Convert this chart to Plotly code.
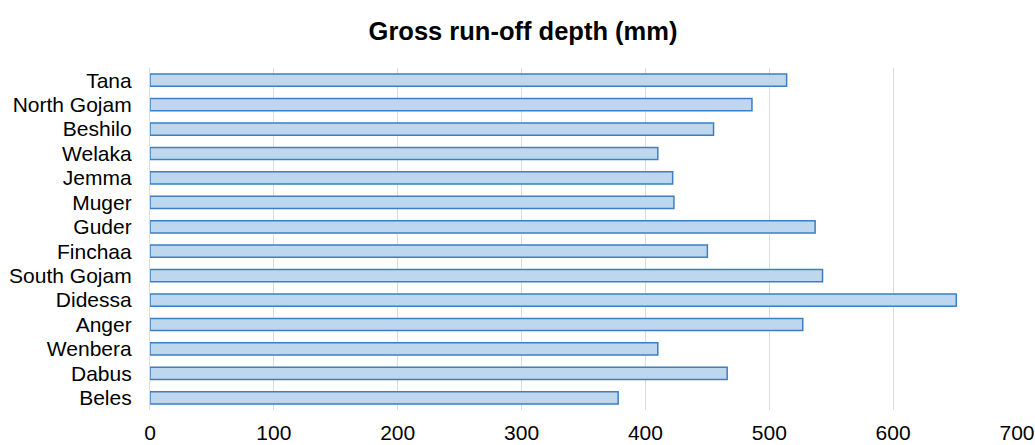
import plotly.graph_objects as go

categories = ["Tana", "North Gojam", "Beshilo", "Welaka", "Jemma", "Muger", "Guder",
              "Finchaa", "South Gojam", "Didessa", "Anger", "Wenbera", "Dabus", "Beles"]
runoff_mm = [514, 486, 455, 410, 422, 423, 537, 450, 543, 651, 527, 410, 466, 378]
x_ticks = [0, 100, 200, 300, 400, 500, 600, 700]

fig = go.Figure(go.Bar(
    y=categories, x=runoff_mm, orientation="h",
    marker=dict(color="#bdd7ee", line=dict(color="#3d7fc1", width=1.5)),
))

fig.update_layout(
    width=1035, height=445,
    margin=dict(l=150, r=18, t=68, b=35, autoexpand=False),
    paper_bgcolor="white", plot_bgcolor="white",
    bargap=0.5,
    showlegend=False,
    title=dict(text="<b>Gross run-off depth (mm)</b>", x=(366 + 680) / 2 / 1035, xanchor="center",
               xref="container", y=1 - 31 / 445, yref="container", yanchor="middle",
               font=dict(family="Arial, Liberation Sans", size=25.5, color="#000000")),
    font=dict(family="Arial, Liberation Sans", color="#000000"),
)
fig.update_xaxes(range=[0, 700], tickvals=x_ticks, showgrid=True, gridcolor="#dcdcdc",
                 gridwidth=1.2, zeroline=False, showline=False, automargin=False,
                 tickfont=dict(size=21, color="#000000"), ticks="", ticklabelstandoff=8)
fig.update_yaxes(autorange="reversed", tickmode="array", tickvals=categories,
                 showgrid=False, showline=True, linecolor="#dcdcdc", automargin=False,
                 linewidth=1.2, ticks="", tickfont=dict(size=21, color="#000000"),
                 ticklabelstandoff=13)

fig.write_html("out.html", config={"displayModeBar": False},
               post_script="document.body.style.margin='0';")
